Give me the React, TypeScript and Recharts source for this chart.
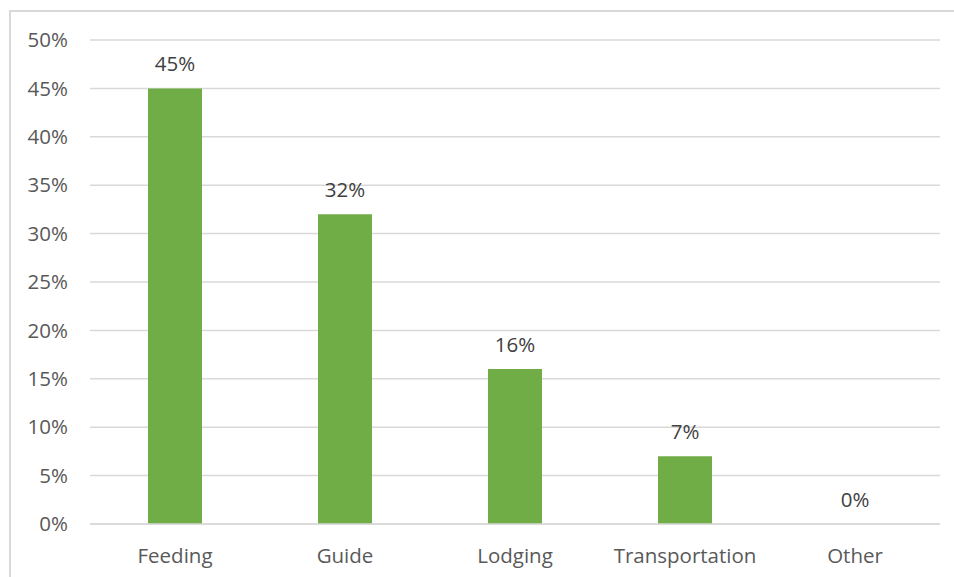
import { Bar, ComposedChart, CartesianGrid, LabelList, Line, XAxis, YAxis } from "recharts";

const categories = ["Feeding", "Guide", "Lodging", "Transportation", "Other"];
const shares = [45, 32, 16, 7, 0];
const yTicks = [0, 5, 10, 15, 20, 25, 30, 35, 40, 45, 50];

const data = categories.map((name, i) => ({ name, share: shares[i] }));

const font = "'Open Sans', sans-serif";
const axisColor = "#595959";
const labelColor = "#404040";
const fs = 20.5;

export default function App() {
  return (
    <div
      style={{
        position: "absolute",
        left: 0,
        top: 0,
        width: 954,
        height: 577,
        overflow: "hidden",
        background: "#fff",
        fontFamily: font,
      }}
    >
      <div
        style={{
          position: "absolute",
          left: 9,
          top: 10,
          width: 980,
          height: 620,
          border: "2px solid #d9d9d9",
          boxSizing: "border-box",
        }}
      />
      <div style={{ position: "absolute", left: 0, top: 0 }}>
        <ComposedChart
          width={954}
          height={577}
          data={data}
          margin={{ top: 40, right: 14, bottom: 23, left: 0 }}
          barCategoryGap={0}
        >
          <CartesianGrid vertical={false} stroke="#d9d9d9" strokeWidth={1.5} />
          <XAxis
            dataKey="name"
            height={30}
            axisLine={{ stroke: "#d9d9d9", strokeWidth: 1.5 }}
            tickLine={false}
            tickMargin={18}
            tick={{ fill: axisColor, fontSize: fs, fontFamily: font }}
            interval={0}
          />
          <YAxis
            width={90}
            domain={[0, 50]}
            ticks={yTicks}
            tickFormatter={(v: number) => `${v}%`}
            axisLine={false}
            tickLine={false}
            tickMargin={16}
            tick={{ fill: axisColor, fontSize: fs, fontFamily: font }}
          />
          <Bar dataKey="share" fill="#70ad47" barSize={54} isAnimationActive={false} />
          <Line
            dataKey="share"
            stroke="none"
            dot={false}
            activeDot={false}
            isAnimationActive={false}
            legendType="none"
          >
            <LabelList
              dataKey="share"
              position="top"
              offset={17}
              formatter={(v: number) => `${v}%`}
              style={{ fill: labelColor, fontSize: fs, fontFamily: font }}
            />
          </Line>
        </ComposedChart>
      </div>
    </div>
  );
}
